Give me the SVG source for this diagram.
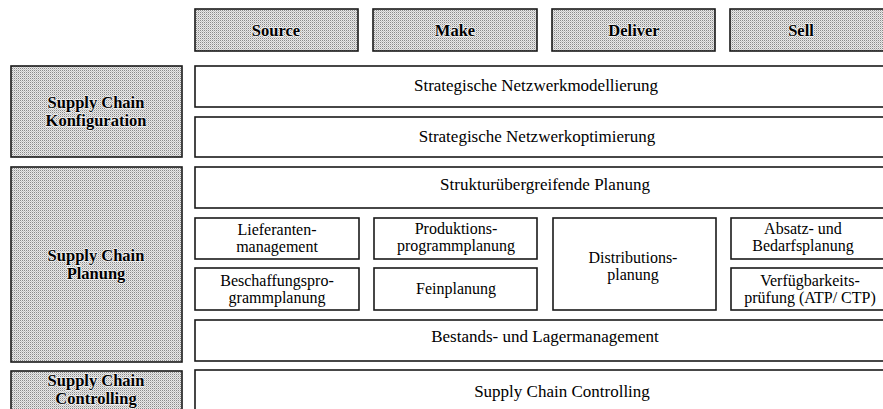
<svg xmlns="http://www.w3.org/2000/svg" width="883" height="409" viewBox="0 0 883 409">
  <defs>
    <!-- fine halftone dot screen used for the grey headers -->
    <pattern id="dots" width="2" height="2" patternUnits="userSpaceOnUse">
      <rect width="2" height="2" fill="#e9e9e9"/>
      <rect width="1" height="1" fill="#8a8a8a"/>
      <rect x="1" y="1" width="1" height="1" fill="#c4c4c4"/>
    </pattern>
  </defs>
  <style>
    .grey { fill: url(#dots); stroke: #1a1a1a; stroke-width: 1.6; }
    .box { fill: #ffffff; stroke: #1a1a1a; stroke-width: 1.6; }
    text { font-family: "Liberation Serif", "DejaVu Serif", "Times New Roman", serif; fill: #000; text-anchor: middle; }
    .head { font-weight: bold; font-size: 16.5px; stroke: #f4f4f4; stroke-width: 1.4; paint-order: stroke; stroke-linejoin: round; }
    .lbl { font-size: 17px; }
    .sm { font-size: 16px; }
  </style>
  <rect width="883" height="409" fill="#ffffff"/>

  <!-- process columns -->
  <g id="source"><rect class="grey" x="195" y="9" width="163" height="42"/><text class="head" x="276" y="36">Source</text></g>
  <g id="make"><rect class="grey" x="373" y="9" width="164" height="42"/><text class="head" x="455" y="36">Make</text></g>
  <g id="deliver"><rect class="grey" x="552" y="9" width="163" height="42"/><text class="head" x="634" y="36">Deliver</text></g>
  <g id="sell"><rect class="grey" x="730" y="9" width="165" height="42"/><text class="head" x="801" y="36">Sell</text></g>

  <!-- levels -->
  <g id="konfiguration"><rect class="grey" x="11" y="66" width="171" height="91"/>
    <text class="head" x="96" y="108">Supply Chain</text><text class="head" x="96" y="126">Konfiguration</text></g>
  <g id="planung"><rect class="grey" x="11" y="167" width="171" height="195"/>
    <text class="head" x="96" y="261">Supply Chain</text><text class="head" x="96" y="279">Planung</text></g>
  <g id="controlling"><rect class="grey" x="11" y="371" width="171" height="50"/>
    <text class="head" x="96" y="386">Supply Chain</text><text class="head" x="96" y="404">Controlling</text></g>

  <!-- full-width tasks -->
  <g id="modellierung"><rect class="box" x="195" y="66" width="700" height="41"/><text class="lbl" x="536" y="91">Strategische Netzwerkmodellierung</text></g>
  <g id="optimierung"><rect class="box" x="195" y="117" width="700" height="40"/><text class="lbl" x="537" y="142">Strategische Netzwerkoptimierung</text></g>
  <g id="strukturplanung"><rect class="box" x="195" y="167" width="700" height="41"/><text class="lbl" x="545" y="190">Strukturübergreifende Planung</text></g>
  <g id="bestand"><rect class="box" x="195" y="320" width="700" height="41"/><text class="lbl" x="545" y="342">Bestands- und Lagermanagement</text></g>
  <g id="sc-controlling"><rect class="box" x="195" y="370" width="700" height="50"/><text class="lbl" x="562" y="397">Supply Chain Controlling</text></g>

  <!-- planning tasks -->
  <g id="lieferanten"><rect class="box" x="195" y="218" width="164" height="41"/>
    <text class="sm" x="277" y="235">Lieferanten-</text><text class="sm" x="277" y="252">management</text></g>
  <g id="beschaffung"><rect class="box" x="195" y="268" width="164" height="42"/>
    <text class="sm" x="277" y="286">Beschaffungspro-</text><text class="sm" x="277" y="303">grammplanung</text></g>
  <g id="produktion"><rect class="box" x="374" y="218" width="163" height="41"/>
    <text class="sm" x="456" y="234">Produktions-</text><text class="sm" x="456" y="251">programmplanung</text></g>
  <g id="feinplanung"><rect class="box" x="374" y="268" width="163" height="42"/>
    <text class="sm" x="456" y="294">Feinplanung</text></g>
  <g id="distribution"><rect class="box" x="553" y="218" width="163" height="92"/>
    <text class="sm" x="633" y="263">Distributions-</text><text class="sm" x="633" y="280">planung</text></g>
  <g id="absatz"><rect class="box" x="731" y="218" width="164" height="41"/>
    <text class="sm" x="803" y="234">Absatz- und</text><text class="sm" x="803" y="251">Bedarfsplanung</text></g>
  <g id="verfuegbarkeit"><rect class="box" x="731" y="268" width="164" height="42"/>
    <text class="sm" x="810" y="286">Verfügbarkeits-</text><text class="sm" x="810" y="303">prüfung (ATP/ CTP)</text></g>

  <g id="connectors"></g>
</svg>
